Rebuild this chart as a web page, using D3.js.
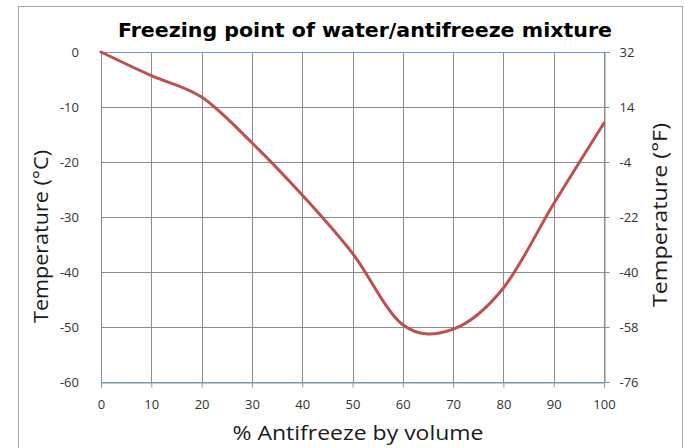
<!DOCTYPE html>
<html><head><meta charset="utf-8">
<script src="https://cdn.jsdelivr.net/npm/d3@7"></script>
<style>
html,body{margin:0;padding:0;background:#fff;}
svg{display:block;}
</style></head>
<body>
<svg id="c" width="685" height="448"></svg>
<script>
const percent = [0,10,20,30,40,50,60,70,80,90,100];
const tempC = [0,-4.3,-8.2,-16.5,-26,-36.6,-49.6,-50.4,-42.9,-27.6,-12.9];
const xTicks = [0,10,20,30,40,50,60,70,80,90,100];
const yTicksC = [0,-10,-20,-30,-40,-50,-60];
const yTicksF = [32,14,-4,-22,-40,-58,-76];
const titleText = "Freezing point of water/antifreeze mixture";
const xTitle = "% Antifreeze by volume";
const yTitleL = "Temperature (°C)";
const yTitleR = "Temperature (°F)";

const svg = d3.select("#c");
const L=101,R=604,T=52,B=382;
const x = d3.scaleLinear().domain([0,100]).range([L,R]);
const y = d3.scaleLinear().domain([-60,0]).range([B,T]);
const yF = d3.scaleLinear().domain([-76,32]).range([B,T]);
const fmt = d => String(d);
const tickFont = "'Open Sans'";

svg.append("rect").attr("x",18.5).attr("y",6.5).attr("width",664).attr("height",460)
  .attr("fill","#fff").attr("stroke","#a6a6a6").attr("stroke-width",1);

// gridlines
svg.append("g").selectAll("line").data(xTicks).join("line")
  .attr("x1",d=>Math.round(x(d))+0.5).attr("x2",d=>Math.round(x(d))+0.5)
  .attr("y1",T).attr("y2",B).attr("stroke","#8c8c8c").attr("stroke-width",1);
svg.append("g").selectAll("line").data(yTicksC).join("line")
  .attr("x1",L).attr("x2",R).attr("y1",d=>Math.round(y(d))+0.5).attr("y2",d=>Math.round(y(d))+0.5)
  .attr("stroke","#8c8c8c").attr("stroke-width",1);

// right axis
const gR = svg.append("g").attr("transform",`translate(${Math.round(R)+0.5},0)`)
  .call(d3.axisRight(yF).tickValues(yTicksF).tickFormat(fmt).tickSize(5).tickPadding(10));
gR.select(".domain").attr("stroke","#8c8c8c");
gR.selectAll(".tick line").attr("stroke","#8c8c8c");
gR.selectAll("text").attr("font-family",tickFont).attr("font-size",13).attr("fill","#333");

// left axis labels
const gL = svg.append("g").attr("transform",`translate(${L},0)`)
  .call(d3.axisLeft(y).tickValues(yTicksC).tickFormat(fmt).tickSize(0).tickPadding(22));
gL.select(".domain").attr("stroke","#8c8c8c");
gL.selectAll("text").attr("font-family",tickFont).attr("font-size",13).attr("fill","#333");

// bottom axis (blue)
const gB = svg.append("g").attr("transform",`translate(0,${B+0.5})`)
  .call(d3.axisBottom(x).tickValues(xTicks).tickFormat(fmt).tickSize(5).tickPadding(12));
gB.select(".domain").attr("stroke","#6b9bd2");
gB.selectAll(".tick line").attr("stroke","#6b9bd2");
gB.selectAll("text").attr("font-family",tickFont).attr("font-size",13).attr("fill","#333");

// top blue line
svg.append("line").attr("x1",L).attr("x2",R).attr("y1",T+0.5).attr("y2",T+0.5).attr("stroke","#6b9bd2");

// curve
const line = d3.line().x((d,i)=>x(percent[i])).y(d=>y(d)).curve(d3.curveCardinal.tension(0));
svg.append("path").datum(tempC).attr("d",line).attr("fill","none")
  .attr("stroke","#c0504d").attr("stroke-width",3).attr("stroke-linecap","round");

// titles
svg.append("text").attr("x",365).attr("y",37).attr("text-anchor","middle")
  .attr("font-family","'DejaVu Sans'").attr("font-weight","bold").attr("font-size",19)
  .attr("textLength",494).attr("lengthAdjust","spacingAndGlyphs").attr("fill","#000").text(titleText);
svg.append("text").attr("x",358).attr("y",440).attr("text-anchor","middle")
  .attr("font-family","'Open Sans'").attr("font-size",20).attr("fill","#1a1a1a")
  .attr("textLength",251).attr("lengthAdjust","spacingAndGlyphs").text(xTitle);
svg.append("text").attr("transform","translate(48,236.5) rotate(-90)").attr("text-anchor","middle")
  .attr("font-family","'Open Sans'").attr("font-size",20).attr("fill","#1a1a1a")
  .attr("textLength",173).attr("lengthAdjust","spacingAndGlyphs").text(yTitleL);
svg.append("text").attr("transform","translate(667,215) rotate(-90)").attr("text-anchor","middle")
  .attr("font-family","'Open Sans'").attr("font-size",20).attr("fill","#1a1a1a")
  .attr("textLength",184).attr("lengthAdjust","spacingAndGlyphs").text(yTitleR);
</script>
</body></html>
